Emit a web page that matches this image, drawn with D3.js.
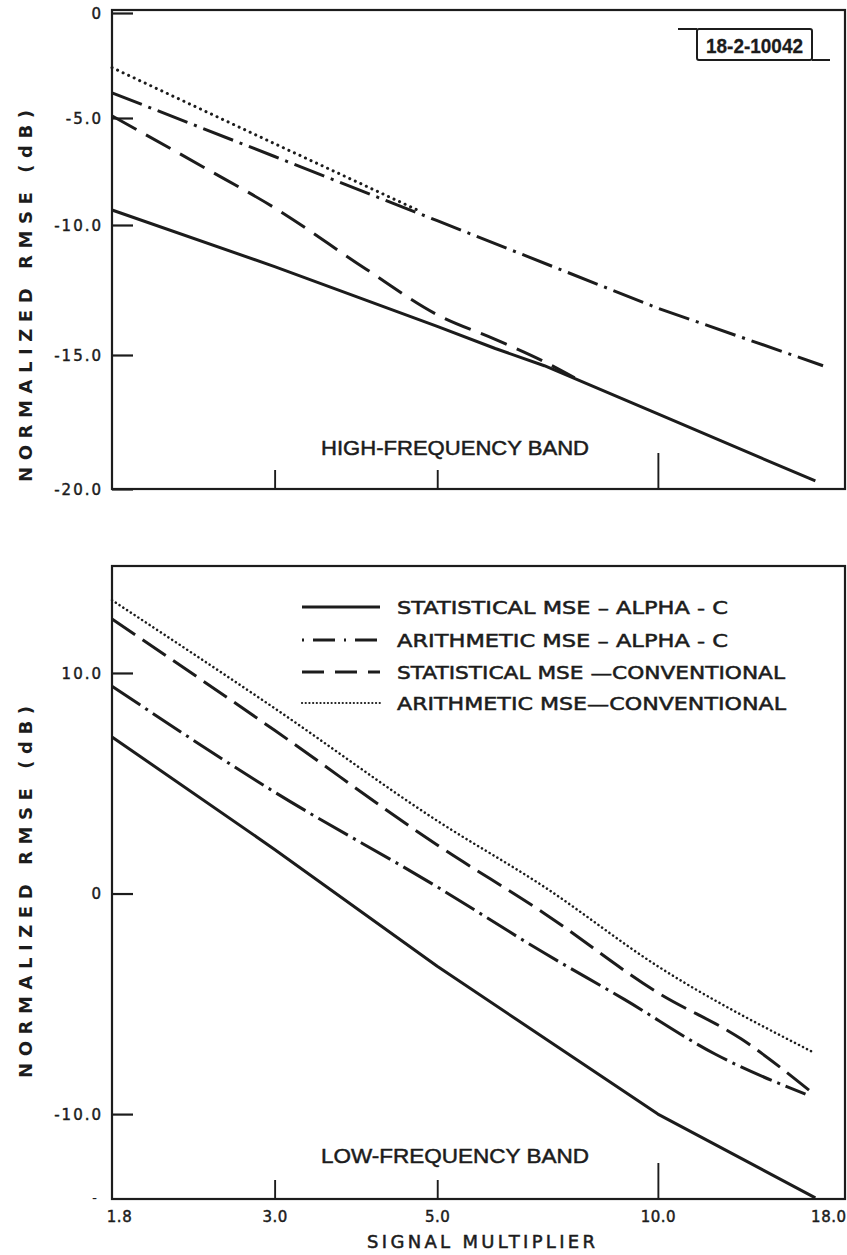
<!DOCTYPE html>
<html><head><meta charset="utf-8">
<script src="https://cdn.jsdelivr.net/npm/d3@7"></script>
<style>body{margin:0;background:#fff}svg{display:block}</style>
</head><body>
<svg id="chart" width="847" height="1255"></svg>
<script>
// ---------- data ----------
const xTickValues = [1.8, 3.0, 5.0, 10.0, 18.0];
const xTickLabels = ["1.8", "3.0", "5.0", "10.0", "18.0"];
const xInnerTicks = [3.0, 5.0, 10.0];
const topYTickValues = [0, -5, -10, -15, -20];
const topYTickLabels = ["0", "-5.0", "-10.0", "-15.0", "-20.0"];
const botYTickValues = [10, 0, -10];
const botYTickLabels = ["10.0", "0", "-10.0"];
const seriesNames = [
  "STATISTICAL MSE – ALPHA - C",
  "ARITHMETIC MSE – ALPHA - C",
  "STATISTICAL MSE —CONVENTIONAL",
  "ARITHMETIC MSE—CONVENTIONAL"
];
const panelTitles = ["HIGH-FREQUENCY BAND", "LOW-FREQUENCY BAND"];
const yTitle = "NORMALIZED RMSE (dB)";
const xTitle = "SIGNAL MULTIPLIER";
const figureId = "18-2-10042";

// high-frequency band  [signal multiplier, dB]
const hfStatAlpha  = [[1.8,-9.3],[3,-11.6],[5,-13.9],[6,-14.75],[7,-15.4],[10,-17.2],[16.4,-19.7]];
const hfArithAlpha = [[1.8,-3.8],[3,-6.8],[5,-9.8],[10,-13.2],[16.8,-15.4]];
const hfStatConv   = [[1.8,-4.9],[2.4,-7.3],[3,-9.2],[4,-11.7],[5,-13.45],[6,-14.4],[7,-15.25],[7.7,-15.85]];
const hfArithConv  = [[1.8,-2.6],[3,-6.2],[4.7,-9.3]];
// low-frequency band
const lfStatAlpha  = [[1.8,7.1],[3,2.0],[5,-3.3],[10,-10.0],[16.4,-13.8]];
const lfArithAlpha = [[1.8,9.4],[3,4.6],[5,0.3],[7,-2.7],[9,-4.8],[12,-7.3],[15.9,-9.1]];
const lfStatConv   = [[1.8,12.45],[3,7.4],[5,2.2],[7,-0.9],[10,-4.5],[13,-6.6],[16.2,-9.0]];
const lfArithConv  = [[1.8,13.3],[3,8.4],[5,3.3],[7,0.3],[10,-3.3],[16.3,-7.2]];

// ---------- layout ----------
const INK = "#1c1c1c";
const L = 112, R = 845;
const topP = {y0: 10, y1: 489};
const botP = {y0: 566, y1: 1199};
const tickFont = "'DejaVu Sans', 'Noto Sans', sans-serif";
const narrowFont = "'Liberation Sans Narrow', 'Liberation Sans', Arial, sans-serif";

const svg = d3.select("#chart");
svg.append("rect").attr("width", 847).attr("height", 1255).attr("fill", "#fff");

const x = d3.scaleLog().domain([1.8, 18]).range([L, R]);
const yTop = d3.scaleLinear().domain([0, -5, -10, -15, -20]).range([13, 118, 225, 355, 489]);
const yBot = d3.scaleLinear().domain([-13.85, 14.85]).range([botP.y1, botP.y0]);

const styles = {
  hf: [
    {w: 3.0, dash: null, cap: "butt", smooth: false},
    {w: 3.0, dash: "32,7,3,7", cap: "butt", smooth: false},
    {w: 3.0, dash: "28,11", cap: "butt", smooth: true},
    {w: 3.0, dash: "0.1,6", cap: "round", smooth: false}
  ],
  lf: [
    {w: 3.0, dash: null, cap: "butt", smooth: false},
    {w: 3.0, dash: "34,6,3,6", cap: "butt", smooth: true},
    {w: 3.0, dash: "28,9", cap: "butt", smooth: true},
    {w: 2.5, dash: "0.1,4.4", cap: "round", smooth: true}
  ]
};

function thicken(sel, w) { return sel.attr("stroke", INK).attr("stroke-width", w); }

function frame(p) {
  svg.append("rect").attr("x", L).attr("y", p.y0).attr("width", R - L).attr("height", p.y1 - p.y0)
    .attr("fill", "none").attr("stroke", INK).attr("stroke-width", 2.2);
}

function panel(p, y, yVals, yLabs, series, st, title, titleY) {
  frame(p);
  const ya = svg.append("g").attr("transform", `translate(${L},0)`)
    .call(d3.axisLeft(y).tickValues(yVals).tickFormat((d, i) => yLabs[i])
      .tickSizeInner(-21).tickSizeOuter(0).tickPadding(9));
  ya.select(".domain").remove();
  ya.selectAll("line").attr("stroke", INK).attr("stroke-width", 2.2);
  thicken(ya.selectAll("text").attr("font-family", tickFont).attr("font-size", 15)
    .attr("fill", INK).attr("letter-spacing", "2px").attr("dy", "0.36em"), 0.45);
  const xa = svg.append("g").attr("transform", `translate(0,${p.y1})`)
    .call(d3.axisBottom(x).tickValues(xInnerTicks).tickFormat("").tickSizeInner(-19).tickSizeOuter(0));
  xa.select(".domain").remove();
  xa.selectAll("line").attr("stroke", INK).attr("stroke-width", 1.9)
    .attr("y2", d => d === 10 ? -36 : -19);
  series.forEach((s, i) => {
    const line = d3.line().x(d => x(d[0])).y(d => y(d[1]))
      .curve(st[i].smooth ? d3.curveMonotoneX : d3.curveLinear);
    svg.append("path").datum(s).attr("d", line).attr("fill", "none")
      .attr("stroke", INK).attr("stroke-width", st[i].w)
      .attr("stroke-dasharray", st[i].dash).attr("stroke-linecap", st[i].cap)
      .attr("stroke-linejoin", "round");
  });
  thicken(svg.append("text").attr("x", 455).attr("y", titleY).attr("text-anchor", "middle")
    .attr("font-family", narrowFont).attr("font-size", 21).attr("fill", INK)
    .attr("textLength", 268).attr("lengthAdjust", "spacingAndGlyphs").text(title), 0.5);
}

panel(topP, yTop, topYTickValues, topYTickLabels,
  [hfStatAlpha, hfArithAlpha, hfStatConv, hfArithConv], styles.hf, panelTitles[0], 455);
panel(botP, yBot, botYTickValues, botYTickLabels,
  [lfStatAlpha, lfArithAlpha, lfStatConv, lfArithConv], styles.lf, panelTitles[1], 1163);

const xl = svg.append("g").attr("transform", `translate(0,${botP.y1})`)
  .call(d3.axisBottom(x).tickValues(xTickValues).tickFormat((d, i) => xTickLabels[i])
    .tickSize(0).tickPadding(12));
xl.select(".domain").remove();
thicken(xl.selectAll("text").attr("font-family", tickFont).attr("font-size", 15).attr("fill", INK)
  .attr("letter-spacing", "0.5px")
  .attr("text-anchor", d => d === 18 ? "end" : "middle")
  .attr("dx", d => d === 1.8 ? 7 : (d === 18 ? 1 : 0)), 0.45);

svg.append("text").attr("x", 97).attr("y", botP.y1 + 4).attr("text-anchor", "end")
  .attr("font-family", tickFont).attr("font-size", 14).attr("fill", INK).text("-");

[296, 892].forEach(cy => {
  svg.append("text").attr("transform", `translate(32,${cy}) rotate(-90)`)
    .attr("text-anchor", "middle").attr("font-family", tickFont).attr("font-size", 18)
    .attr("font-weight", "bold").attr("fill", INK)
    .attr("textLength", 372).attr("lengthAdjust", "spacing").text(yTitle);
});

thicken(svg.append("text").attr("x", 481).attr("y", 1248).attr("text-anchor", "middle")
  .attr("font-family", tickFont).attr("font-size", 18).attr("fill", INK)
  .attr("textLength", 228).attr("lengthAdjust", "spacing").text(xTitle), 0.5);

const legRows = [607, 640, 672, 703];
const legLen = [331, 331, 388, 389];
const legStyles = [
  {w: 3.0, dash: null, cap: "butt"},
  {w: 2.8, dash: "2,9,22,9", cap: "butt"},
  {w: 3.0, dash: "22,11", cap: "butt"},
  {w: 2.2, dash: "0.1,3.6", cap: "round"}
];
seriesNames.forEach((name, i) => {
  const yy = legRows[i];
  svg.append("line").attr("x1", 302).attr("x2", 380).attr("y1", yy).attr("y2", yy)
    .attr("stroke", INK).attr("stroke-width", legStyles[i].w)
    .attr("stroke-dasharray", legStyles[i].dash).attr("stroke-linecap", legStyles[i].cap);
  thicken(svg.append("text").attr("x", 397).attr("y", yy + 7).attr("font-family", tickFont)
    .attr("font-size", 18).attr("fill", INK).attr("textLength", legLen[i])
    .attr("lengthAdjust", "spacingAndGlyphs").text(name), 0.5);
});

const bx = {x0: 697, x1: 812, y0: 29, y1: 60};
const bg = svg.append("g").attr("stroke", INK).attr("stroke-width", 2).attr("fill", "none");
bg.append("rect").attr("x", bx.x0).attr("y", bx.y0).attr("width", bx.x1 - bx.x0).attr("height", bx.y1 - bx.y0).attr("rx", 2);
bg.append("line").attr("x1", 678).attr("x2", bx.x0).attr("y1", bx.y0).attr("y2", bx.y0);
bg.append("line").attr("x1", bx.x1).attr("x2", 830).attr("y1", bx.y1).attr("y2", bx.y1);
thicken(svg.append("text").attr("x", (bx.x0 + bx.x1) / 2).attr("y", 53).attr("text-anchor", "middle")
  .attr("font-family", narrowFont).attr("font-weight", "bold").attr("font-size", 21)
  .attr("fill", INK).attr("textLength", 97).attr("lengthAdjust", "spacingAndGlyphs").text(figureId), 0.3);
</script>
</body></html>
